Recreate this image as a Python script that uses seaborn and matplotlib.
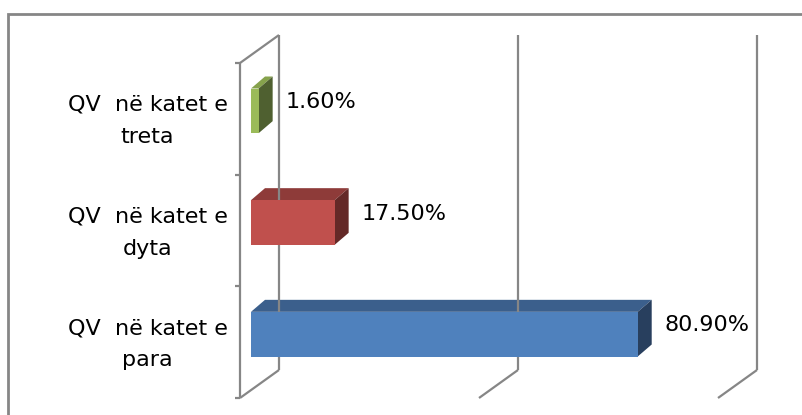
import pandas as pd
import matplotlib
matplotlib.use("Agg")
from matplotlib import pyplot as plt
from matplotlib.patches import Polygon, Rectangle
from matplotlib.transforms import ScaledTranslation
import seaborn as sns

# data
categories = ["QV  në katet e\ntreta", "QV  në katet e\ndyta", "QV  në katet e\npara"]
shares = [1.6, 17.5, 80.9]
grid_values = [0, 50, 100]

front_colors = ["#9BBB59", "#C0504D", "#4F81BD"]
top_colors = ["#86A24C", "#8E3B39", "#3B5F8C"]
side_colors = ["#4F6030", "#642927", "#283F5E"]

GRID = "#868686"
DPI = 100
FONT_SIZE = 16

sns.set_style("white")
plt.rcParams["font.family"] = ["DejaVu Sans"]

fig = plt.figure(figsize=(8.02, 4.15), dpi=DPI)
ax = fig.add_axes([251 / 802, 25 / 415, 478 / 802, 335 / 415])

df = pd.DataFrame({"category": categories, "share": shares})
sns.barplot(data=df, x="share", y="category", hue="category",
            palette=front_colors, saturation=1, width=0.4, orient="h",
            legend=False, linewidth=0, ax=ax)
ax.set_xlim(0, 100)
ax.set_ylim(2.5, -0.5)

# pixel offsets -> data offsets (right/up on screen)
px_x = ax.bbox.width / 100
px_y = ax.bbox.height / 3


def shift(dx, dy):
    return dx / px_x, -dy / px_y


fx, fy = shift(-11, -8)   # front plane
bx, by = shift(28, 20)    # back wall
dx, dy = shift(14, 12)    # bar depth

line_kw = dict(color=GRID, lw=1.6, clip_on=False, solid_capstyle="butt")

# back wall gridlines + floor
for g in grid_values:
    ax.plot([g + bx, g + bx], [-0.5 + by, 2.5 + by], **line_kw)
    ax.plot([g + fx, g + bx], [2.5 + fy, 2.5 + by], **line_kw)

# left wall
ax.plot([fx, fx], [-0.5 + fy, 2.5 + fy], **line_kw)
ax.plot([fx, bx], [-0.5 + fy, -0.5 + by], **line_kw)
tick_len = 5 / px_x
for b in [-0.5, 0.5, 1.5, 2.5]:
    ax.plot([fx - tick_len, fx], [b + fy, b + fy], **line_kw)

# 3d faces of bars
for patch, ctop, cside in zip(ax.patches, top_colors, side_colors):
    x0, y0 = patch.get_x(), patch.get_y()
    w, h = patch.get_width(), patch.get_height()
    x1 = x0 + w
    top = [(x0, y0), (x1, y0), (x1 + dx, y0 + dy), (x0 + dx, y0 + dy)]
    side = [(x1, y0), (x1, y0 + h), (x1 + dx, y0 + h + dy), (x1 + dx, y0 + dy)]
    ax.add_patch(Polygon(top, closed=True, facecolor=ctop, lw=0, clip_on=False))
    ax.add_patch(Polygon(side, closed=True, facecolor=cside, lw=0, clip_on=False))
    patch.set_zorder(3)

# value labels
label_tr = ax.transData + ScaledTranslation(0.27, 0.09, fig.dpi_scale_trans)
for i, v in enumerate(shares):
    ax.text(v, i, f"{v:.2f}%", transform=label_tr, ha="left", va="center",
            fontsize=FONT_SIZE, color="black")

# category labels
ax.set_xticks([])
ax.set_xlabel("")
ax.set_ylabel("")
ax.set_yticks(range(len(categories)), labels=categories, color="black",
              multialignment="center", linespacing=1.75)
ax.tick_params(axis="y", length=0, pad=17, labelsize=FONT_SIZE)
for lbl in ax.get_yticklabels():
    lbl.set_transform(lbl.get_transform() + ScaledTranslation(0, -0.02, fig.dpi_scale_trans))
sns.despine(ax=ax, left=True, bottom=True)

# chart area border
fig.add_artist(Rectangle((8 / 802, -0.1), 1.2, 1.1 - 14 / 415, transform=fig.transFigure,
                         fill=False, edgecolor=GRID, lw=2))

fig.savefig("out.png", dpi=DPI)
